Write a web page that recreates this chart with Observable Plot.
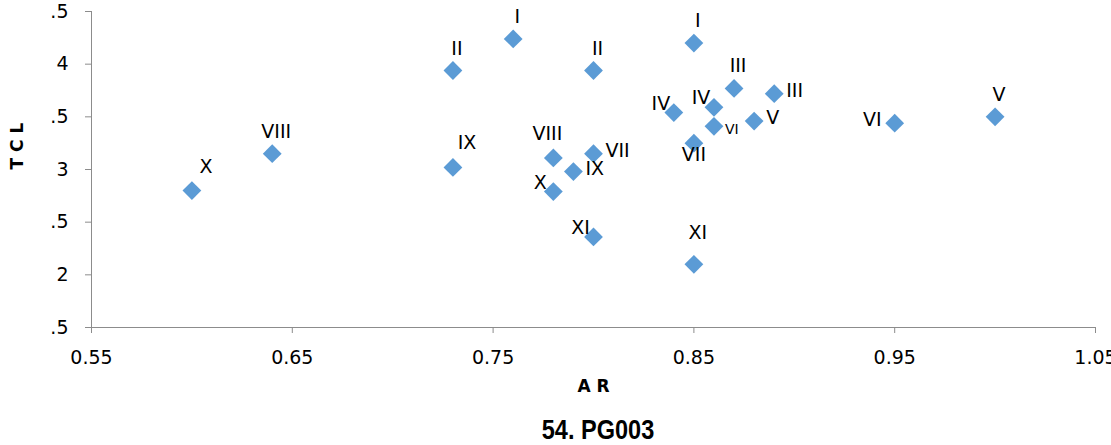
<!DOCTYPE html>
<html>
<head>
<meta charset="utf-8">
<script src="https://cdn.jsdelivr.net/npm/d3@7"></script>
<script src="https://cdn.jsdelivr.net/npm/@observablehq/plot@0.6"></script>
<style>
  html, body { margin: 0; padding: 0; background: #fff; }
  body { position: relative; width: 1111px; height: 445px; overflow: hidden; }
  #caption { position: absolute; left: 598px; top: 416px; transform: translateX(-50%) scaleX(0.84); white-space: nowrap;
    font-family: "Liberation Sans Narrow", "Arial Narrow", "Liberation Sans", sans-serif; font-weight: bold; font-size: 28px; line-height: 28px; color: #000; }
</style>
</head>
<body>
<div id="chart"></div>
<div id="caption"></div>
<script>
// ---- data ----
const labels = ["X","VIII","IX","II","I","II","VIII","VII","IX","X","XI","I","VII","XI","IV","IV","VI","III","V","III","VI","V"];
const ar  = [0.60,0.64,0.73,0.73,0.76,0.80,0.78,0.80,0.79,0.78,0.80,0.85,0.85,0.85,0.84,0.86,0.86,0.87,0.88,0.89,0.95,1.00];
const tcl = [2.80,3.15,3.02,3.94,4.24,3.94,3.11,3.15,2.98,2.79,2.36,4.20,3.25,2.10,3.54,3.59,3.41,3.77,3.46,3.72,3.44,3.50];
const labelPos = ["aboveRight","above","aboveRight","above","above","above","aboveLeft","right","right","upLeft","upLeft","above","below","farAbove","upLeft","upLeft","rightSmall","above","right","right","left","above"];
const xTicks = [0.55,0.65,0.75,0.85,0.95,1.05];
const xTickLabels = ["0.55","0.65","0.75","0.85","0.95","1.05"];
const yTicks = [1.5,2,2.5,3,3.5,4,4.5];
const yTickLabels = [".5","2",".5","3",".5","4",".5"];
const xTitle = "A R";
const yTitle = "T C L";
const caption = "54. PG003";

// ---- chart ----
const idx = d3.range(labels.length);
const placements = {
  above:      {dx: 4,   dy: -22},
  farAbove:   {dx: 4,   dy: -31},
  aboveRight: {dx: 14,  dy: -24},
  aboveLeft:  {dx: -6,  dy: -24},
  upLeft:     {dx: -13, dy: -9},
  right:      {dx: 12,  dy: -3, textAnchor: "start"},
  rightSmall: {dx: 11,  dy: 3,  textAnchor: "start", fontSize: 14},
  left:       {dx: -13, dy: -3, textAnchor: "end"},
  below:      {dx: 0,   dy: 12}
};
const labelMarks = Object.keys(placements).map(k =>
  Plot.text(idx.filter(i => labelPos[i] === k), {
    x: i => ar[i], y: i => tcl[i], text: i => labels[i],
    fill: "#000", fontSize: 19, fontFamily: "DejaVu Sans", ...placements[k]
  })
);

const chart = Plot.plot({
  width: 1111, height: 400,
  marginLeft: 91, marginRight: 16, marginTop: 11, marginBottom: 73,
  x: {domain: [0.55, 1.05], axis: null},
  y: {domain: [1.5, 4.5], axis: null},
  style: {fontFamily: "DejaVu Sans", fontSize: "18px", color: "#000", background: "#fff", overflow: "visible"},
  marks: [
    Plot.ruleY([1.5], {stroke: "#8c8c8c"}),
    Plot.ruleX([0.55], {stroke: "#8c8c8c"}),
    Plot.axisX({ticks: xTicks, anchor: "bottom", tickSize: 6, tickPadding: 17, stroke: "#8c8c8c", fill: "#000", fontSize: 19, fontFamily: "DejaVu Sans", label: null,
      tickFormat: d => xTickLabels[xTicks.indexOf(d)]}),
    Plot.axisY({ticks: yTicks, anchor: "left", tickSize: 6, tickPadding: 17, stroke: "#8c8c8c", fill: "#000", fontSize: 19, fontFamily: "DejaVu Sans", label: null,
      tickFormat: d => yTickLabels[yTicks.indexOf(d)]}),
    Plot.dot(idx, {x: i => ar[i], y: i => tcl[i], symbol: "square", rotate: 45, r: 7.5, fill: "#5B9BD5", stroke: "none"}),
    ...labelMarks,
    Plot.text([yTitle], {text: d => d, frameAnchor: "left", rotate: -90, dx: -74, fontWeight: "bold", fontSize: 17, fontFamily: "DejaVu Sans", fill: "#000"}),
    Plot.text([xTitle], {text: d => d, frameAnchor: "bottom", dy: 64, fontWeight: "bold", fontSize: 17, fontFamily: "DejaVu Sans", fill: "#000"})
  ]
});
document.getElementById("chart").appendChild(chart);
document.getElementById("caption").textContent = caption;
</script>
</body>
</html>
